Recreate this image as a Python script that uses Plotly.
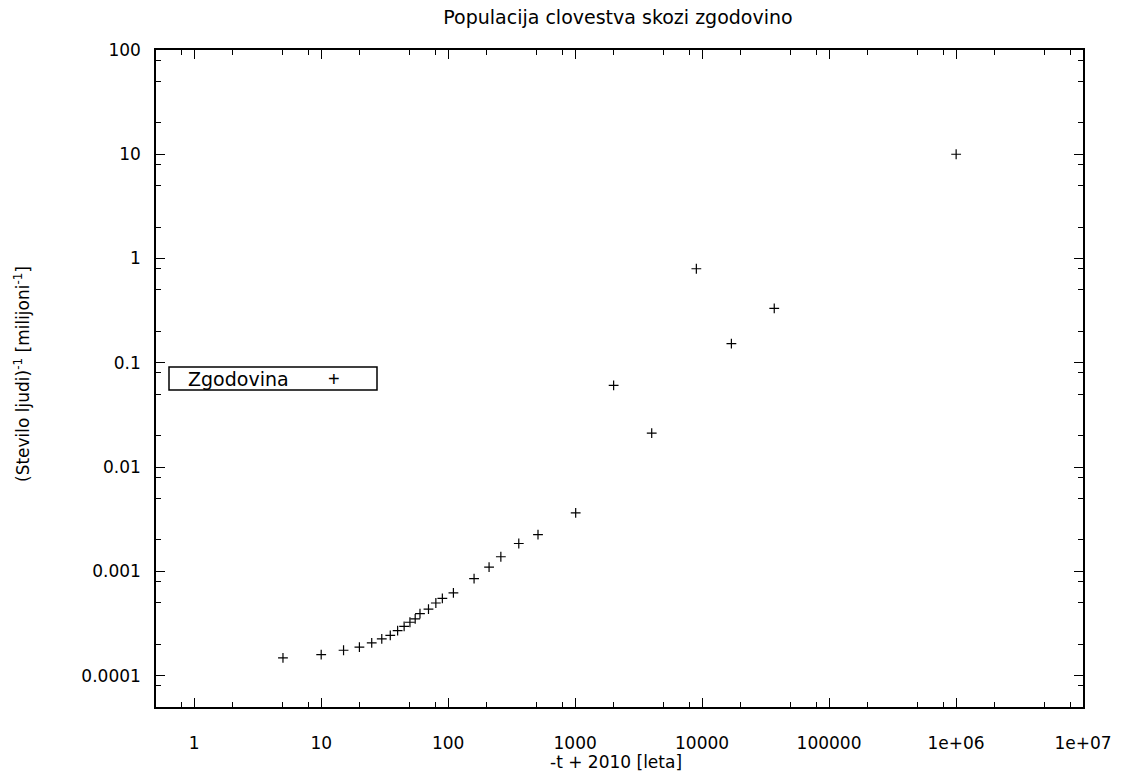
import plotly.graph_objects as go
import math

# ---- data ----
years_before = [5, 10, 15, 20, 25, 30, 35, 40, 45, 50, 55, 60, 70, 80, 90, 110,
                160, 210, 260, 360, 510, 1010, 2010, 4010, 9010, 17010, 37010, 1002010]
inv_population = [1.48e-4, 1.59e-4, 1.75e-4, 1.88e-4, 2.06e-4, 2.25e-4, 2.43e-4,
                  2.70e-4, 2.97e-4, 3.25e-4, 3.50e-4, 3.93e-4, 4.35e-4, 4.97e-4,
                  5.51e-4, 6.21e-4, 8.51e-4, 1.10e-3, 1.38e-3, 1.85e-3, 2.25e-3,
                  3.63e-3, 0.0607, 0.0212, 0.798, 0.153, 0.332, 10]

x_tickvals = [1, 10, 100, 1000, 10000, 100000, 1e6, 1e7]
x_ticktext = ["1", "10", "100", "1000", "10000", "100000", "1e+06", "1e+07"]
y_tickvals = [1e-4, 1e-3, 1e-2, 1e-1, 1, 10, 100]
y_ticktext = ["0.0001", "0.001", "0.01", "0.1", "1", "10", "100"]

series_name = "Zgodovina"
title_text = "Populacija clovestva skozi zgodovino"
x_title = "-t + 2010 [leta]"
y_title = "(Stevilo ljudi)<sup>-1</sup> [milijoni<sup>-1</sup>]"

x_minor = [m * 10 ** d for d in range(-1, 7) for m in (2, 5, 8)]
x_minor = [v for v in x_minor if 0.5 < v < 1e7]
y_minor = [m * 10 ** d for d in range(-5, 2) for m in (2, 5, 8)]
y_minor = [v for v in y_minor if 5e-5 < v < 100]

FONT = "DejaVu Sans, Arial, sans-serif"

fig = go.Figure()
fig.add_trace(go.Scatter(
    x=years_before, y=inv_population, mode="markers", name=series_name,
    marker=dict(symbol="cross-thin", size=7, line=dict(width=1.2, color="black"),
                color="black"),
    showlegend=False,
))

axis_common = dict(
    showline=True, linecolor="black", linewidth=1.5, mirror="allticks",
    ticks="inside", ticklen=9, tickwidth=1.2, tickcolor="black",
    showgrid=False, zeroline=False,
    tickfont=dict(family=FONT, size=17, color="black"),
)

fig.update_xaxes(
    type="log", range=[math.log10(0.5), 7],
    tickmode="array", tickvals=x_tickvals, ticktext=x_ticktext,
    ticklabelstandoff=20,
    minor=dict(tickmode="array", tickvals=x_minor, ticks="inside", ticklen=5,
               tickwidth=1.2, tickcolor="black", showgrid=False),
    **axis_common,
)
fig.update_yaxes(
    type="log", range=[math.log10(5e-5), 2],
    tickmode="array", tickvals=y_tickvals, ticktext=y_ticktext,
    ticklabelstandoff=10,
    minor=dict(tickmode="array", tickvals=y_minor, ticks="inside", ticklen=5,
               tickwidth=1.2, tickcolor="black", showgrid=False),
    **axis_common,
)

W, H = 1124, 776
fig.update_layout(
    width=W, height=H,
    margin=dict(l=156, r=41, t=50, b=69),
    paper_bgcolor="white", plot_bgcolor="white",
    font=dict(family=FONT, size=17, color="black"),
    title=dict(text=title_text, x=618 / W, xanchor="center",
               y=1 - 17 / H, yanchor="middle",
               font=dict(family=FONT, size=19, color="black")),
    showlegend=False,
)

pw, ph = W - 156 - 41, H - 50 - 69
def px(xp):
    return (xp - 156) / pw
def py(yp):
    return 1 - (yp - 50) / ph

# axis titles
fig.add_annotation(text=x_title, xref="paper", yref="paper",
                   x=px(616), y=py(762),
                   xanchor="center", yanchor="middle", showarrow=False,
                   font=dict(family=FONT, size=17, color="black"))
fig.add_annotation(text=y_title, xref="paper", yref="paper",
                   x=px(22), y=py(374),
                   xanchor="center", yanchor="middle", textangle=-90, showarrow=False,
                   font=dict(family=FONT, size=17, color="black"))

# legend box (gnuplot style: text then sample)
fig.add_shape(type="rect", xref="paper", yref="paper",
              x0=px(169), x1=px(377), y0=py(390), y1=py(367),
              line=dict(color="black", width=1.5), fillcolor="white")
fig.add_annotation(text=series_name, xref="paper", yref="paper",
                   x=px(186), y=py(378.5), xanchor="left", yanchor="middle",
                   showarrow=False, font=dict(family=FONT, size=19, color="black"))
fig.add_annotation(text="+", xref="paper", yref="paper",
                   x=px(334), y=py(378.5), xanchor="center", yanchor="middle",
                   showarrow=False, font=dict(family="Liberation Sans, Arial", size=20, color="black"))

fig.write_html("out.html")
